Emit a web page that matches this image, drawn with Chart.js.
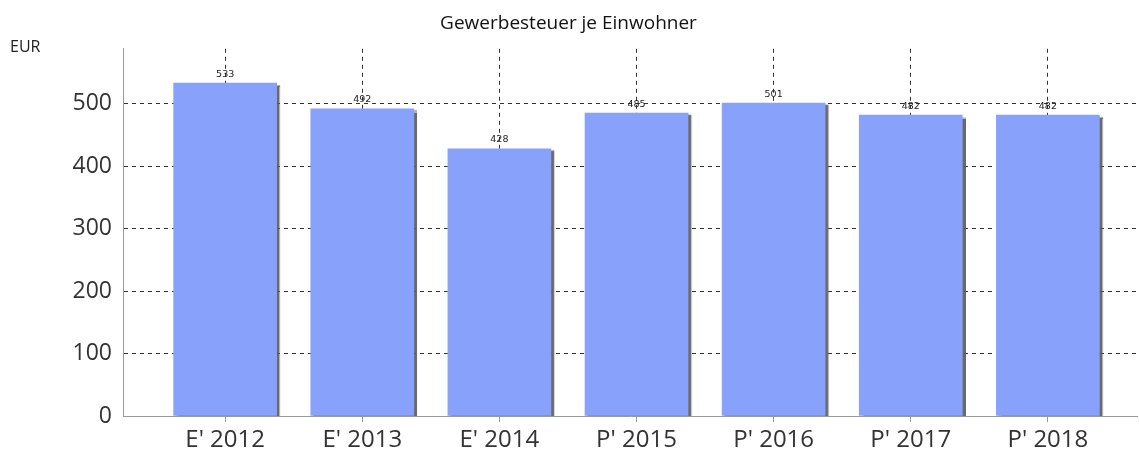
<!DOCTYPE html>
<html>
<head>
<meta charset="utf-8">
<script src="https://cdn.jsdelivr.net/npm/chart.js@4"></script>
<style>
  html, body { margin: 0; padding: 0; background: #fff; }
  #wrap { position: relative; width: 1139px; height: 455px; }
</style>
</head>
<body>
<div id="wrap"><canvas id="chart"></canvas></div>
<script>
// Chart data
const categories = ["E' 2012", "E' 2013", "E' 2014", "P' 2015", "P' 2016", "P' 2017", "P' 2018"];
const values = [533, 492, 428, 485, 501, 482, 482];
const yTicks = [0, 100, 200, 300, 400, 500];

const BAR_COLOR = '#88a2fc';
const GRID_COLOR = '#333';
const TEXT_COLOR = '#333';
const FONT = "'Open Sans', sans-serif";

// Draw bars with a grey drop shadow on their right side
const barShadow = {
    id: 'barShadow',
    beforeDatasetDraw(chart) {
        const ctx = chart.ctx;
        ctx.save();
        ctx.shadowColor = 'rgba(90,90,90,0.9)';
        ctx.shadowOffsetX = 3;
        ctx.shadowOffsetY = 2;
        ctx.shadowBlur = 1;
    },
    afterDatasetDraw(chart) {
        chart.ctx.restore();
    }
};

// Small value labels above each bar
const valueLabels = {
    id: 'valueLabels',
    afterDatasetsDraw(chart) {
        const ctx = chart.ctx;
        const meta = chart.getDatasetMeta(0);
        ctx.save();
        ctx.font = "9.5px 'DejaVu Sans', sans-serif";
        ctx.fillStyle = '#222';
        ctx.textAlign = 'center';
        ctx.textBaseline = 'bottom';
        meta.data.forEach((bar, i) => {
            ctx.fillText(String(values[i]), bar.x, bar.y - 4);
        });
        ctx.restore();
    }
};

// "EUR" unit label top-left
const unitLabel = {
    id: 'unitLabel',
    afterDraw(chart) {
        const ctx = chart.ctx;
        ctx.save();
        ctx.font = '16px ' + FONT;
        ctx.fillStyle = '#222';
        ctx.textAlign = 'left';
        ctx.textBaseline = 'middle';
        ctx.fillText('EUR', 10, 47);
        ctx.restore();
    }
};

new Chart(document.getElementById('chart'), {
    type: 'bar',
    data: {
        datasets: [{
            data: values.map((v, i) => ({ x: i, y: v })),
            backgroundColor: BAR_COLOR,
            borderWidth: 0,
            barThickness: 103
        }]
    },
    options: {
        responsive: true,
        maintainAspectRatio: false,
        animation: false,
        layout: { padding: { top: 0, right: 2, bottom: -3, left: 0 } },
        plugins: {
            legend: { display: false },
            tooltip: { enabled: false },
            title: {
                display: true,
                text: 'Gewerbesteuer je Einwohner',
                color: '#111',
                font: { family: FONT, size: 19, weight: 'normal' },
                padding: { top: 12, bottom: 14 }
            }
        },
        scales: {
            x: {
                type: 'linear',
                offset: false,
                min: -0.745,
                max: 6.65,
                ticks: {
                    stepSize: 1,
                    includeBounds: false,
                    autoSkip: false,
                    maxRotation: 0,
                    color: TEXT_COLOR,
                    font: { family: FONT, size: 24, lineHeight: 1.0 },
                    padding: 6,
                    callback: (v) => categories[v] ?? ''
                },
                grid: {
                    offset: false,
                    color: GRID_COLOR,
                    tickColor: '#999',
                    tickLength: 6
                },
                border: { display: true, color: '#999', dash: [4, 4] }
            },
            y: {
                min: 0,
                max: 588,
                afterBuildTicks: (scale) => { scale.ticks = yTicks.map(v => ({ value: v })); },
                afterFit: (scale) => { scale.width = 123; },
                ticks: {
                    color: TEXT_COLOR,
                    font: { family: FONT, size: 23 },
                    padding: 11
                },
                grid: {
                    color: (c) => c.tick && c.tick.value === 0 ? 'rgba(0,0,0,0)' : GRID_COLOR,
                    drawTicks: false
                },
                border: { display: true, color: '#999', dash: [4, 4] }
            }
        }
    },
    plugins: [barShadow, valueLabels, unitLabel]
});
</script>
</body>
</html>
